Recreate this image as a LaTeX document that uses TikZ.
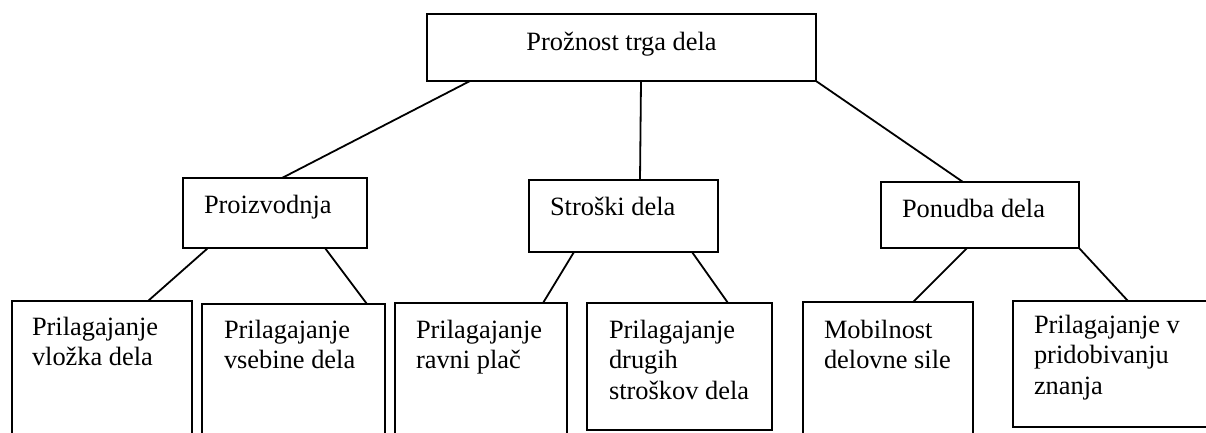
\documentclass[tikz,border=0pt]{standalone}
\usepackage{fontspec}
\setmainfont{Liberation Serif}
\usetikzlibrary{calc}
\tikzset{
  box/.style={draw, line width=2pt, inner sep=0pt, outer sep=0pt, anchor=north west},
  lbl/.style={inner sep=0pt, outer sep=0pt, font=\fontsize{26.4pt}{30.5pt}\selectfont},
  link/.style={line width=1.8pt},
}
\newcommand{\linesof}[1]{\begin{tabular}[t]{@{}l@{}}#1\end{tabular}}
\begin{document}
\begin{tikzpicture}[x=1pt,y=-1pt]
  \useasboundingbox (0,0) rectangle (1206,432);
  \fill[white] (0,0) rectangle (1206,432);
  \clip (0,0) rectangle (1206,432);

  % root
  \node[box, minimum width=389pt, minimum height=67pt] (top) at (427,14) {};
  \node[lbl, anchor=base] (toptxt) at (621.5,50) {Prožnost trga dela};

  % second level
  \node[box, minimum width=184pt, minimum height=70pt] (proiz) at (183,178) {};
  \node[lbl, anchor=base west] (proiztxt) at (204,213) {Proizvodnja};
  \node[box, minimum width=189pt, minimum height=72pt] (stroski) at (529,180) {};
  \node[lbl, anchor=base west] (stroskitxt) at (550,215) {Stroški dela};
  \node[box, minimum width=198pt, minimum height=66pt] (ponudba) at (881,182) {};
  \node[lbl, anchor=base west] (ponudbatxt) at (902,217) {Ponudba dela};

  % third level
  \node[box, minimum width=180pt, minimum height=150pt] (b1) at (12,301) {};
  \node[lbl, anchor=base west] (b1txt) at (32,335) {\linesof{Prilagajanje\\vložka dela}};
  \node[box, minimum width=183pt, minimum height=150pt] (b2) at (202,304) {};
  \node[lbl, anchor=base west] (b2txt) at (224,338) {\linesof{Prilagajanje\\vsebine dela}};
  \node[box, minimum width=172pt, minimum height=150pt] (b3) at (395,303) {};
  \node[lbl, anchor=base west] (b3txt) at (416,338) {\linesof{Prilagajanje\\ravni plač}};
  \node[box, minimum width=185pt, minimum height=127pt] (b4) at (587,303) {};
  \node[lbl, anchor=base west] (b4txt) at (609,338) {\linesof{Prilagajanje\\drugih\\stroškov dela}};
  \node[box, minimum width=170pt, minimum height=150pt] (b5) at (803,302) {};
  \node[lbl, anchor=base west] (b5txt) at (824,338) {\linesof{Mobilnost\\delovne sile}};
  \node[box, minimum width=210pt, minimum height=126pt] (b6) at (1013,301) {};
  \node[lbl, anchor=base west] (b6txt) at (1034,333) {\linesof{Prilagajanje v\\pridobivanju\\znanja}};

  % connectors
  \draw[link] ($(top.south west)+(43,0)$) -- ($(proiz.north west)+(99,0)$);
  \draw[link] ($(top.south west)+(214,0)$) -- ($(stroski.north west)+(111,0)$);
  \draw[link] (top.south east) -- ($(ponudba.north west)+(82,0)$);

  \draw[link] ($(proiz.south west)+(25,0)$) -- ($(b1.north west)+(136,0)$);
  \draw[link] ($(proiz.south west)+(142,0)$) -- ($(b2.north west)+(165,0)$);
  \draw[link] ($(stroski.south west)+(45,0)$) -- ($(b3.north west)+(148,0)$);
  \draw[link] ($(stroski.south west)+(163,0)$) -- ($(b4.north west)+(141,0)$);
  \draw[link] ($(ponudba.south west)+(86,0)$) -- ($(b5.north west)+(110,0)$);
  \draw[link] (ponudba.south east) -- ($(b6.north west)+(115,0)$);
\end{tikzpicture}
\end{document}
